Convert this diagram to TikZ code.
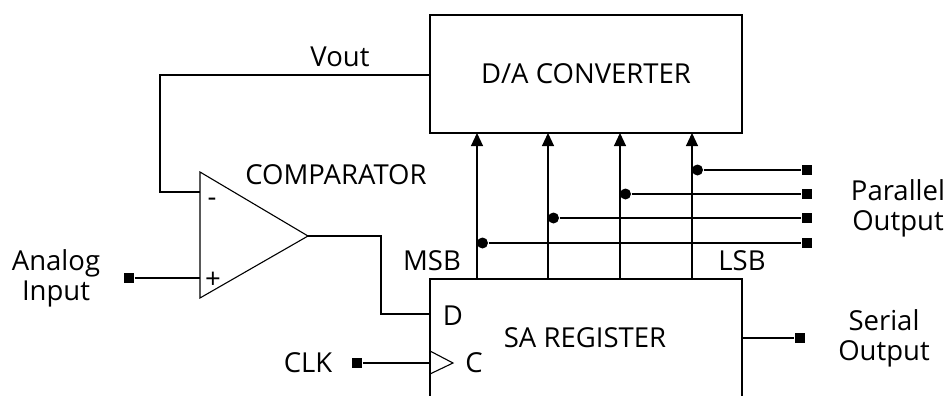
\documentclass[tikz,border=0pt]{standalone}
\usepackage{fontspec}
\setmainfont{Open Sans}
\usetikzlibrary{arrows.meta}
\begin{document}
\begin{tikzpicture}[x=1pt,y=-1pt,line width=1.1pt,
  lbl/.style={font=\fontsize{27.5}{30}\selectfont, inner sep=0pt, align=center},
  sq/.style={fill=black, minimum size=10.5pt, inner sep=0pt},
  dotn/.style={circle, fill=black, minimum size=11pt, inner sep=0pt},
  arr/.style={-{Triangle[width=12pt,length=13pt]}}]
\useasboundingbox (0,0) rectangle (945,396);
% D/A converter
\node[draw, minimum width=312pt, minimum height=118pt, inner sep=0pt, lbl] (dac) at (586,74) {D/A CONVERTER};
% SA register (open at bottom)
\coordinate (sarbl) at (430,396);
\coordinate (sartl) at (430,279);
\coordinate (sartr) at (742,279);
\coordinate (sarbr) at (742,396);
\draw (sarbl) -- (sartl) -- (sartr) -- (sarbr);
\node[lbl] (sart) at (585,338) {SA REGISTER};
\node[lbl] (dlab) at (453,316) {D};
\node[lbl] (clab) at (474,363) {C};
\coordinate (sarD) at (430,314);
\coordinate (sarC) at (430,363);
\coordinate (clk1) at (430,351);
\coordinate (clk2) at (453,363);
\coordinate (clk3) at (430,374);
\draw (clk1) -- (clk2) -- (clk3);
% comparator
\coordinate (ct) at (200,172);
\coordinate (cb) at (200,298);
\coordinate (co) at (308,236);
\draw (ct) -- (co) -- (cb) -- cycle;
\coordinate (cm) at (200,192);
\coordinate (cp) at (200,278);
\node[lbl] (minus) at (212,202) {-};
\node[lbl] (plus) at (213,280) {+};
\node[lbl] (cmplab) at (336,175) {COMPARATOR};
% feedback Vout
\coordinate (fb) at (160,75);
\draw (dac.west |- fb) -- (fb) |- (cm);
\node[lbl] (vout) at (340,57) {Vout};
% analog input
\node[sq] (ain) at (129,278) {};
\draw (ain) -- (cp);
\node[lbl] (ainl) at (56,278) {Analog\\Input};
% comparator to D
\coordinate (bend) at (381,236);
\draw (co) -- (bend) |- (sarD);
% clock
\node[sq] (clksq) at (357,363) {};
\draw (clksq) -- (sarC);
\node[lbl] (clkl) at (308,363) {CLK};
% MSB LSB
\node[lbl] (msb) at (432,261) {MSB};
\node[lbl] (lsb) at (742,261) {LSB};
% bit lines
\foreach \i/\x/\y in {1/477/243,2/548/218,3/620/194,4/692/170}{
  \coordinate (b\i) at (\x,279);
  \coordinate (t\i) at (\x,133);
  \draw[arr] (b\i) -- (t\i);
  \node[dotn] (d\i) at (\x+5.5,\y) {};
  \node[sq] (p\i) at (807,\y) {};
  \draw (d\i) -- (p\i);
}
\node[lbl] (par) at (898,208) {Parallel\\Output};
% serial
\node[sq] (ser) at (800,338) {};
\draw (sartr |- ser) -- (ser);
\node[lbl] (serl) at (884,338) {Serial\\Output};
\end{tikzpicture}
\end{document}
